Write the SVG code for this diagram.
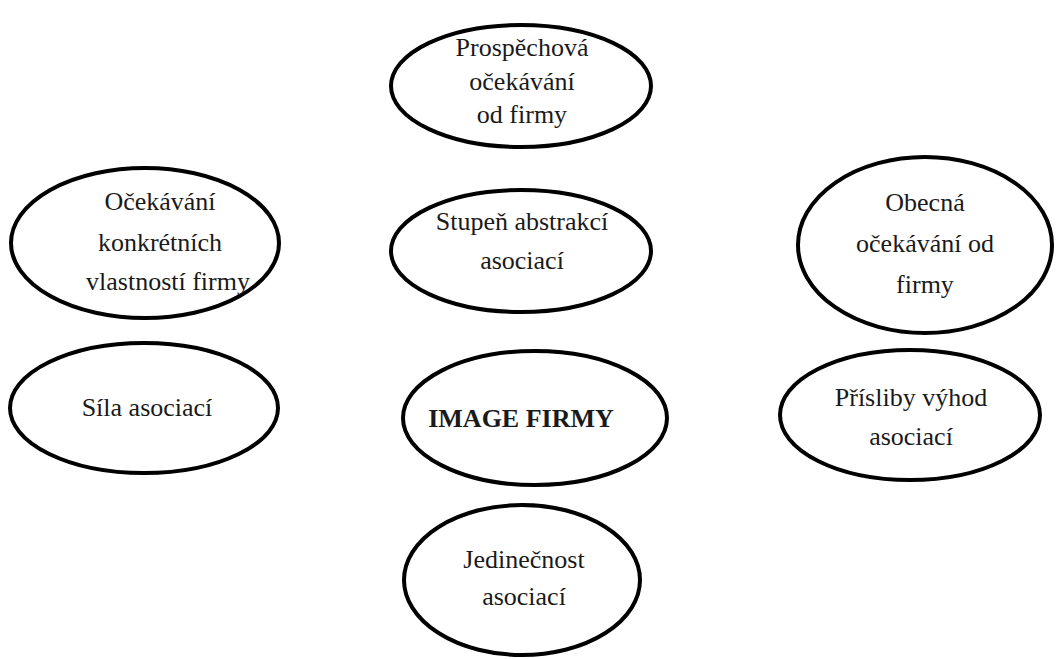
<svg xmlns="http://www.w3.org/2000/svg" width="1061" height="659" viewBox="0 0 1061 659">
  <style>
    .node ellipse { fill: #ffffff; stroke: #000000; stroke-width: 4; }
    .node text { font-family: 'Liberation Serif', 'DejaVu Serif', serif; font-size: 26px; fill: #1a1a1a; text-anchor: middle; }
    .node text.main { font-weight: bold; }
  </style>
  <rect width="1061" height="659" fill="#ffffff"/>
  <g id="connectors"></g>

  <g id="prospechova" class="node">
    <ellipse cx="521" cy="86" rx="130" ry="61"/>
    <text x="522" y="56">Prospěchová</text>
    <text x="522" y="90">očekávání</text>
    <text x="522" y="123">od firmy</text>
  </g>

  <g id="konkretni" class="node">
    <ellipse cx="145" cy="243" rx="134" ry="75"/>
    <text x="160" y="210">Očekávání</text>
    <text x="160" y="251">konkrétních</text>
    <text x="168" y="290">vlastností firmy</text>
  </g>

  <g id="stupen" class="node">
    <ellipse cx="521" cy="251" rx="130" ry="61"/>
    <text x="522" y="230">Stupeň abstrakcí</text>
    <text x="522" y="269">asociací</text>
  </g>

  <g id="obecna" class="node">
    <ellipse cx="925" cy="245" rx="127" ry="88"/>
    <text x="925" y="211">Obecná</text>
    <text x="925" y="252">očekávání od</text>
    <text x="925" y="293">firmy</text>
  </g>

  <g id="sila" class="node">
    <ellipse cx="144" cy="408" rx="134" ry="65"/>
    <text x="147" y="416">Síla asociací</text>
  </g>

  <g id="image" class="node">
    <ellipse cx="535" cy="418" rx="132" ry="67"/>
    <text class="main" x="521" y="427">IMAGE FIRMY</text>
  </g>

  <g id="prisliby" class="node">
    <ellipse cx="910" cy="415" rx="130" ry="65"/>
    <text x="911" y="406">Přísliby výhod</text>
    <text x="911" y="445">asociací</text>
  </g>

  <g id="jedinecnost" class="node">
    <ellipse cx="522" cy="580" rx="118" ry="75"/>
    <text x="524" y="568">Jedinečnost</text>
    <text x="524" y="605">asociací</text>
  </g>
</svg>
